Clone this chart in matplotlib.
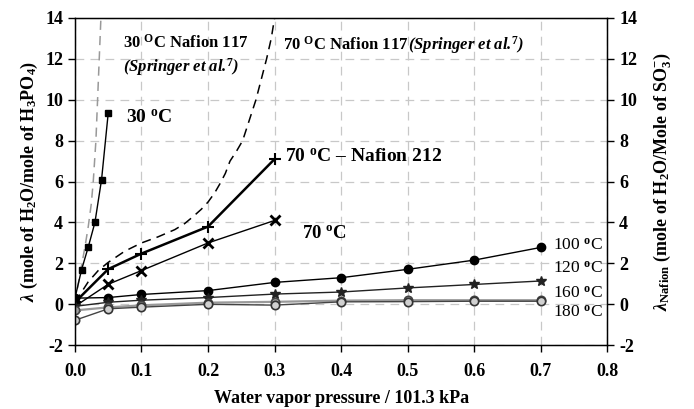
import matplotlib
matplotlib.use("Agg")
import matplotlib.pyplot as plt

plt.rcParams["font.family"] = ["Liberation Serif", "DejaVu Serif"]
plt.rcParams["font.weight"] = "bold"
plt.rcParams["axes.labelweight"] = "bold"
plt.rcParams["axes.unicode_minus"] = False
plt.rcParams["mathtext.fontset"] = "custom"
plt.rcParams["mathtext.rm"] = "Liberation Serif:bold"
plt.rcParams["mathtext.bf"] = "Liberation Serif:bold"
plt.rcParams["mathtext.it"] = "Liberation Serif:italic:bold"

# ── data ─────────────────────────────────────────────────────────────────────
x_30 = [0.0, 0.01, 0.02, 0.03, 0.04, 0.05]
y_30 = [0.3, 1.7, 2.8, 4.0, 6.1, 9.35]

x_70n212 = [0.0, 0.05, 0.1, 0.2, 0.3]
y_70n212 = [0.1, 1.72, 2.48, 3.8, 7.1]

x_70 = [0.0, 0.05, 0.1, 0.2, 0.3]
y_70 = [-0.1, 0.98, 1.65, 3.0, 4.1]

x_hot = [0.0, 0.05, 0.1, 0.2, 0.3, 0.4, 0.5, 0.6, 0.7]
y_100 = [0.3, 0.33, 0.48, 0.67, 1.07, 1.3, 1.71, 2.16, 2.78]
y_120 = [-0.1, 0.1, 0.2, 0.33, 0.5, 0.6, 0.8, 0.97, 1.14]
y_160 = [-0.3, -0.15, -0.05, 0.08, 0.12, 0.18, 0.2, 0.2, 0.2]
y_180 = [-0.78, -0.22, -0.14, 0.0, -0.04, 0.12, 0.13, 0.15, 0.15]

# Springer et al. Nafion 117 isotherms (dashed)
x_spr30 = [0.0, 0.005, 0.01, 0.015, 0.02, 0.0245, 0.0275, 0.0315, 0.034, 0.0365, 0.039]
y_spr30 = [0.05, 1.0, 1.9, 2.8, 3.8, 4.9, 6.0, 8.0, 10.0, 12.0, 14.0]
x_spr70 = [0.0, 0.01, 0.02, 0.035, 0.05, 0.075, 0.1, 0.125, 0.15, 0.165,
           0.178, 0.19, 0.2, 0.21, 0.218, 0.226, 0.233, 0.243, 0.252,
           0.262, 0.272, 0.28, 0.288, 0.295, 0.3]
y_spr70 = [0.1, 0.6, 1.1, 1.65, 2.05, 2.6, 3.0, 3.3, 3.65, 3.95,
           4.3, 4.65, 5.0, 5.45, 5.9, 6.4, 7.0, 7.5, 8.0,
           9.0, 10.0, 11.0, 12.0, 13.0, 14.0]

x_ticks = [0.0, 0.1, 0.2, 0.3, 0.4, 0.5, 0.6, 0.7, 0.8]
y_ticks = [-2, 0, 2, 4, 6, 8, 10, 12, 14]

fig = plt.figure(figsize=(6.94, 4.09), dpi=100)
ax = fig.add_axes([0.108, 0.156, 0.767, 0.8])

ax.grid(True, color="#c8c8c8", linestyle=(0, (7, 5)), linewidth=0.9)
ax.set_axisbelow(True)

# reference curves
ax.plot(x_spr30, y_spr30, color="#999999", linestyle=(0, (6, 4)), linewidth=1.1)
ax.plot(x_spr70, y_spr70, color="black", linestyle=(0, (6, 4)), linewidth=1.1)

# measured data
ax.plot(x_30, y_30, color="black", linewidth=1.0, marker="s", markersize=5)
ax.plot(x_70n212, y_70n212, color="black", linewidth=1.8, marker="+",
        markersize=8, markeredgewidth=1.5)
ax.plot(x_70, y_70, color="black", linewidth=1.0, marker="x",
        markersize=7, markeredgewidth=2.0)
ax.plot(x_hot, y_100, color="black", linewidth=1.0, marker="o", markersize=6)
ax.plot(x_hot, y_120, color="#222222", linewidth=1.0, marker="*", markersize=7)
ax.plot(x_hot, y_160, color="#9a9a9a", linewidth=1.6, marker="o", markersize=6,
        markerfacecolor="#a0a0a0", markeredgecolor="#444444", markeredgewidth=1.2)
ax.plot(x_hot, y_180, color="#444444", linewidth=1.0, marker="o", markersize=6,
        markerfacecolor="#d0d0d0", markeredgecolor="#333333", markeredgewidth=1.2)

ax.set_xlim(0, 0.8)
ax.set_ylim(-2, 14)
ax.set_xticks(x_ticks)
ax.set_xticklabels([f"{v:.1f}" for v in x_ticks])
ax.set_yticks(y_ticks)
ax.tick_params(axis="both", labelsize=13, direction="out", length=5, width=1)
ax.tick_params(axis="x", pad=8)
for s in ax.spines.values():
    s.set_linewidth(1.0)

ax2 = ax.twinx()
ax2.set_ylim(-2, 14)
ax2.set_yticks(y_ticks)
ax2.tick_params(axis="y", labelsize=13, direction="out", length=5, width=1)

ax.set_xlabel("Water vapor pressure / 101.3 kPa", fontsize=13, labelpad=7)
ax.set_ylabel(r"$\lambda$ (mole of H$_2$O/mole of H$_3$PO$_4$)", fontsize=13, labelpad=4)
ax2.set_ylabel(r"$\lambda_{\mathrm{Nafion}}$ (mole of H$_2$O/Mole of SO$_3^{-}$)",
               fontsize=13, labelpad=10)

# annotations
ax.text(0.072, 12.8, r"30 $^{\mathrm{O}}$C Nafion 117", fontsize=12, va="center")
ax.text(0.072, 11.6, r"(Springer et al.$^{7}$)", fontsize=12, style="italic", va="center")
ax.text(0.077, 9.1, r"30 $^{\mathrm{o}}$C", fontsize=14, va="center")
ax.text(0.313, 12.67, r"70 $^{\mathrm{O}}$C Nafion 117", fontsize=12, va="center")
ax.text(0.5, 12.67, r"(Springer et al.$^{7}$)", fontsize=12, style="italic", va="center")
ax.text(0.316, 7.2, r"70 $^{\mathrm{o}}$C – Nafion 212", fontsize=14, va="center")
ax.text(0.341, 3.47, r"70 $^{\mathrm{o}}$C", fontsize=13.5, va="center")
for lab, yy in [("100", 2.89), ("120", 1.76), ("160", 0.54), ("180", -0.39)]:
    ax.text(0.719, yy, lab + r" $^{\mathrm{o}}$C", fontsize=12.5, weight="normal", va="center")

fig.savefig("out.png", dpi=100)
